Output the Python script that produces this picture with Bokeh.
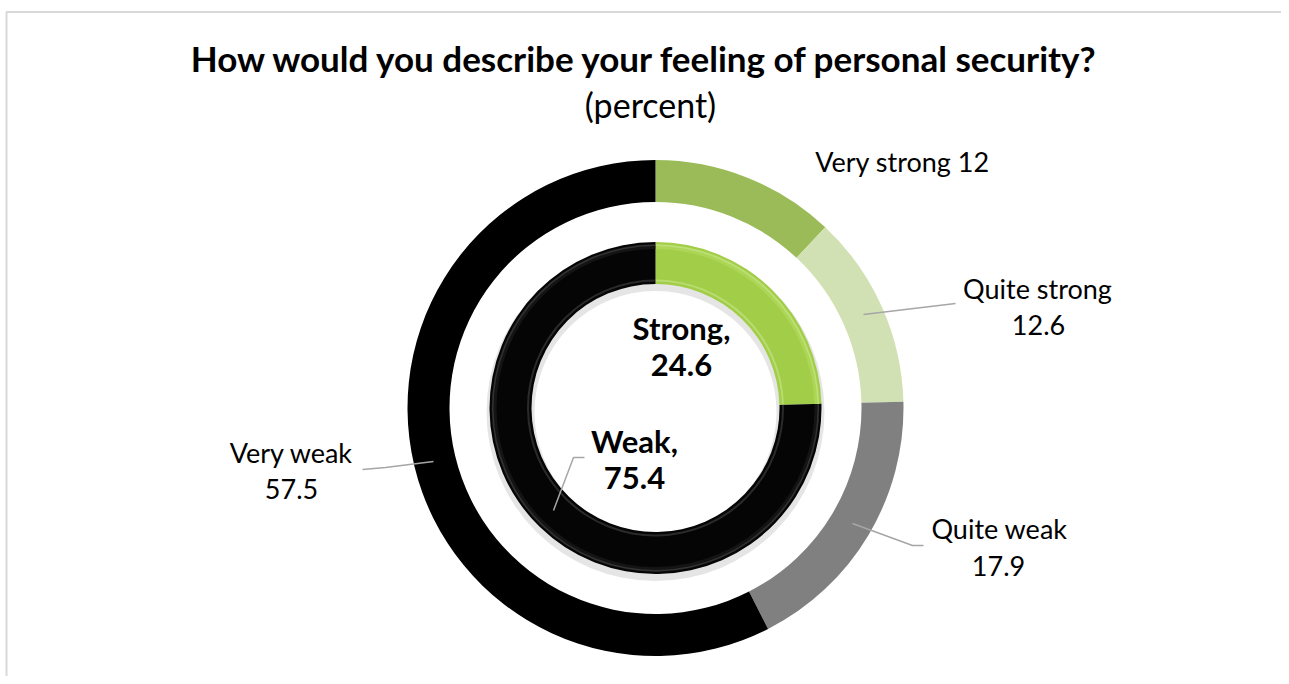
import math
from bokeh.plotting import figure
from bokeh.models import Range1d
from bokeh.core.properties import value
from bokeh.embed import file_html
from bokeh.resources import INLINE

# ---------------- data ----------------
outer_categories = ["Very strong", "Quite strong", "Quite weak", "Very weak"]
outer_values = [12, 12.6, 17.9, 57.5]
outer_colors = ["#9BBB59", "#D2E1B3", "#808080", "#000000"]

inner_categories = ["Strong", "Weak"]
inner_values = [24.6, 75.4]
inner_colors = ["#A2CD48", "#050505"]

title_text = "How would you describe your feeling of personal security?"
subtitle_text = "(percent)"

# ---------------- layout ----------------
W, H = 1281, 676
FONT = "Lato"

def Y(y_img):
    return H - y_img

CX, CY = 655, Y(407.5)
R_OUT_IN, R_OUT_OUT = 206, 248
R_IN_IN, R_IN_OUT = 124, 166

p = figure(width=W, height=H, output_backend="svg", toolbar_location=None,
           x_range=Range1d(0, W), y_range=Range1d(0, H), min_border=0,
           background_fill_color="white", border_fill_color="white")
p.axis.visible = False
p.grid.visible = False
p.outline_line_color = None


def angles(vals):
    tot = sum(vals)
    cum = 0.0
    starts, ends = [], []
    for v in vals:
        starts.append(math.pi / 2 - 2 * math.pi * cum / tot)
        cum += v
        ends.append(math.pi / 2 - 2 * math.pi * cum / tot)
    return starts, ends

# border of chart area
p.line([6, 6, W + 5], [-5, Y(11.5), Y(11.5)], line_color="#D9D9D9", line_width=2)

# outer ring
os_, oe_ = angles(outer_values)
p.annular_wedge(x=CX, y=CY, inner_radius=R_OUT_IN, outer_radius=R_OUT_OUT,
                start_angle=os_, end_angle=oe_, direction="clock",
                fill_color=outer_colors, line_color=None)

# inner ring shadow
p.annulus(x=CX, y=CY - 4, inner_radius=R_IN_IN - 3, outer_radius=R_IN_OUT + 3,
          fill_color="#000000", fill_alpha=0.10, line_color=None)

# inner ring (with bevel-like highlights)
is_, ie_ = angles(inner_values)
p.annular_wedge(x=CX, y=CY, inner_radius=R_IN_IN, outer_radius=R_IN_OUT,
                start_angle=is_, end_angle=ie_, direction="clock",
                fill_color=inner_colors, line_color=None)
hi_colors = ["#C2E282", "#3A3A3A"]
mid_colors = ["#ADD657", "#141414"]
p.annular_wedge(x=CX, y=CY, inner_radius=R_IN_OUT - 7, outer_radius=R_IN_OUT - 2,
                start_angle=is_, end_angle=ie_, direction="clock",
                fill_color=mid_colors, line_color=None)
p.annular_wedge(x=CX, y=CY, inner_radius=R_IN_OUT - 4, outer_radius=R_IN_OUT - 2.5,
                start_angle=is_, end_angle=ie_, direction="clock",
                fill_color=hi_colors, line_color=None, fill_alpha=0.8)
p.annular_wedge(x=CX, y=CY, inner_radius=R_IN_IN + 2.5, outer_radius=R_IN_IN + 4.5,
                start_angle=is_, end_angle=ie_, direction="clock",
                fill_color=hi_colors, line_color=None, fill_alpha=0.7)

# title
p.text(x=[645], y=[Y(57)], text=[title_text], text_align="center", text_baseline="middle",
       text_font=value(FONT), text_font_style="bold", text_font_size="35px", text_color="#000000")
p.text(x=[650], y=[Y(104)], text=[subtitle_text], text_align="center", text_baseline="middle",
       text_font=value(FONT), text_font_size="34px", text_color="#000000")

def fmt(v):
    return f"{v:g}"

# leader lines (gray)
lead = "#A6A6A6"
p.line([863, 955], [Y(314), Y(303)], line_color=lead, line_width=1.5)
p.line([852, 912, 923], [Y(523), Y(545), Y(545)], line_color=lead, line_width=1.5)
p.line([362, 385, 433], [Y(469), Y(467), Y(461)], line_color=lead, line_width=1.5)
p.line([553, 573, 584], [Y(510), Y(457), Y(457)], line_color=lead, line_width=1.5)

# outer labels
lab_style = dict(text_align="center", text_baseline="middle", text_font=value(FONT),
                 text_font_size="27px", text_color="#000000")
# Very strong: single line
p.text(x=[902], y=[Y(161)], text=[f"{outer_categories[0]} {fmt(outer_values[0])}"], **lab_style)
# Quite strong
p.text(x=[1037], y=[Y(288)], text=[outer_categories[1]], **lab_style)
p.text(x=[1038], y=[Y(324)], text=[fmt(outer_values[1])], **lab_style)
# Quite weak
p.text(x=[999], y=[Y(528)], text=[outer_categories[2]], **lab_style)
p.text(x=[998], y=[Y(565)], text=[fmt(outer_values[2])], **lab_style)
# Very weak
p.text(x=[291], y=[Y(452)], text=[outer_categories[3]], **lab_style)
p.text(x=[291], y=[Y(488)], text=[fmt(outer_values[3])], **lab_style)

# inner labels (bold)
in_style = dict(text_align="center", text_baseline="middle", text_font=value(FONT),
                text_font_style="bold", text_font_size="31px", text_color="#000000")
p.text(x=[681], y=[Y(327)], text=[inner_categories[0] + ","], **in_style)
p.text(x=[681], y=[Y(364)], text=[fmt(inner_values[0])], **in_style)
p.text(x=[634], y=[Y(440)], text=[inner_categories[1] + ","], **in_style)
p.text(x=[634], y=[Y(477)], text=[fmt(inner_values[1])], **in_style)

open("out.html", "w").write(file_html(p, INLINE))
